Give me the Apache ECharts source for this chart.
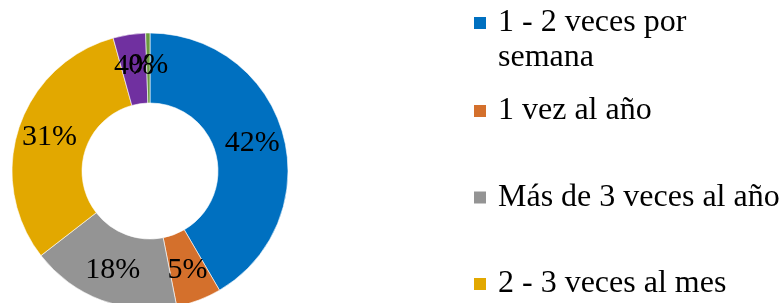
<!DOCTYPE html>
<html>
<head>
<meta charset="utf-8">
<script src="https://cdn.jsdelivr.net/npm/echarts@6/dist/echarts.min.js"></script>
<style>
  html, body { margin: 0; padding: 0; background: #fff; }
  #chart { width: 781px; height: 303px; }
</style>
</head>
<body>
<div id="chart"></div>
<script>
// datos
var categorias = ['1 - 2 veces por semana', '1 vez al año', 'Más de 3 veces al año', '2 - 3 veces al mes', '1 vez al mes', 'Nunca'];
var valores = [41.6, 5.3, 17.6, 31.2, 3.8, 0.5];
var colores = ['#0070C0', '#D4702C', '#949494', '#E2A800', '#7030A0', '#6A9A3F'];

var fuente = '"Liberation Serif", "Times New Roman", serif';
var lh = 35;

var chart = echarts.init(document.getElementById('chart'));

var datos = categorias.map(function (c, i) {
  return { name: c, value: valores[i] };
});

var option = {
  color: colores,
  animation: false,
  legend: [
    {
      orient: 'vertical',
      left: 472,
      top: 23 - 1.5 * lh,
      padding: 0,
      icon: 'rect',
      itemWidth: 14,
      itemHeight: 14,
      data: [categorias[0]],
      // linea vacia arriba para que el cuadro quede en la primera linea
      formatter: function () { return ' \n1 - 2 veces por\nsemana'; },
      textStyle: {
        fontFamily: fuente,
        fontSize: 32,
        color: '#000',
        lineHeight: lh,
        padding: [0, 0, 0, 6]
      }
    },
    {
      orient: 'vertical',
      left: 472,
      top: 111 - lh / 2,
      padding: 0,
      icon: 'rect',
      itemWidth: 14,
      itemHeight: 14,
      itemGap: 86.5 - lh,
      data: categorias.slice(1, 4),
      textStyle: {
        fontFamily: fuente,
        fontSize: 32,
        color: '#000',
        lineHeight: lh,
        padding: [0, 0, 0, 6]
      }
    }
  ],
  series: [
    {
      type: 'pie',
      center: [150, 171],
      radius: [68, 138],
      startAngle: 90,
      percentPrecision: 0,
      itemStyle: { borderColor: '#fff', borderWidth: 0.6 },
      label: {
        show: true,
        position: 'inside',
        formatter: '{d}%',
        fontFamily: fuente,
        fontSize: 30,
        color: '#000'
      },
      labelLayout: { hideOverlap: false },
      labelLine: { show: false },
      emphasis: { disabled: true },
      data: datos
    }
  ]
};

chart.setOption(option);
</script>
</body>
</html>
